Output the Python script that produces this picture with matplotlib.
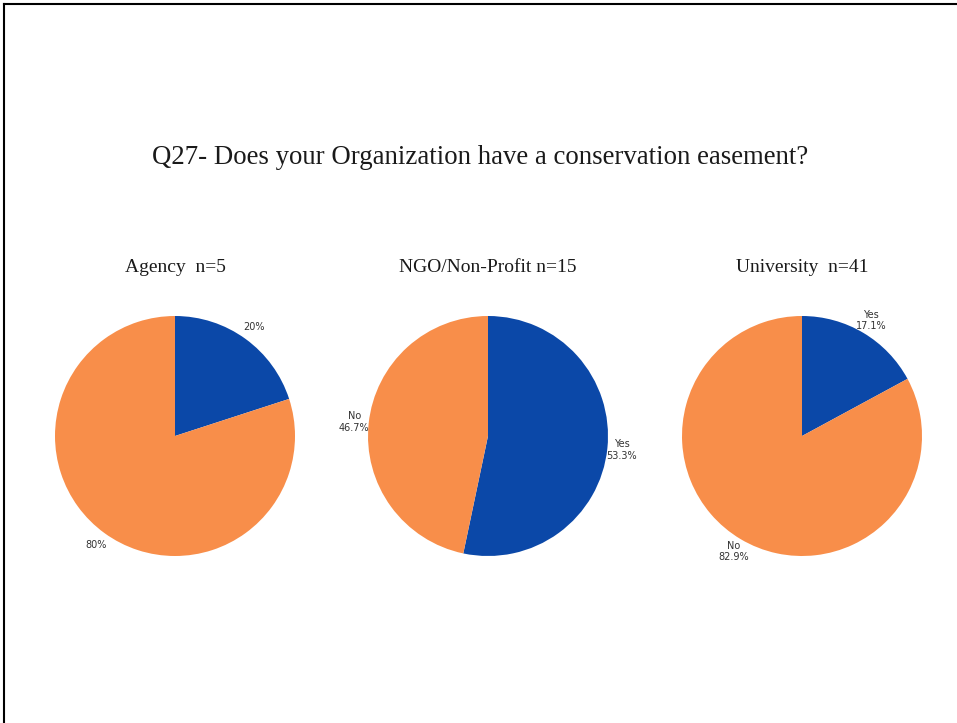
import matplotlib.pyplot as plt
from matplotlib.lines import Line2D

title = 'Q27- Does your Organization have a conservation easement?'
groups = ['Agency  n=5', 'NGO/Non-Profit n=15', 'University  n=41']
answers = ['Yes', 'No']
shares = [
    [20.0, 80.0],
    [53.3, 46.7],
    [17.1, 82.9],
]
show_names = [False, True, True]

colors = ['#0B48A8', '#F88E4A']
W, H = 957, 723
centers_x = [175, 488, 802]
center_y = 436
half = 150  # axes half-size in px, radius 1 -> 120 px

fig = plt.figure(figsize=(W / 100, H / 100), dpi=100)
fig.patch.set_facecolor('white')

fig.text(480 / W, 1 - 157 / H, title, ha='center', va='center',
         family='Liberation Serif', fontsize=19.3, color='#1a1a1a')

for cx, name, vals, named in zip(centers_x, groups, shares, show_names):
    ax = fig.add_axes([(cx - half) / W, (H - center_y - half) / H,
                       2 * half / W, 2 * half / H])
    if named:
        labels = [f'{a}\n{v:.1f}%' for a, v in zip(answers, vals)]
    else:
        labels = [f'{v:.0f}%' for v in vals]
    wedges, texts = ax.pie(vals, colors=colors, startangle=90, counterclock=False,
                           labels=labels, labeldistance=1.12,
                           textprops=dict(fontsize=7, color='#333333',
                                          family='DejaVu Sans'))
    for t in texts:
        t.set_ha('center')
        t.set_va('center')
        t.set_multialignment('center')
    ax.set_xlim(-1.25, 1.25)
    ax.set_ylim(-1.25, 1.25)
    ax.set_aspect('equal')
    ax.axis('off')
    fig.text(cx / W, 1 - 268 / H, name, ha='center', va='center',
             family='Liberation Serif', fontsize=14, color='#1a1a1a')

# slide frame: top and left edges only
fig.add_artist(Line2D([4 / W, 1], [1 - 4 / H, 1 - 4 / H], color='black', lw=1.5,
                      transform=fig.transFigure))
fig.add_artist(Line2D([4 / W, 4 / W], [0, 1 - 4 / H], color='black', lw=1.5,
                      transform=fig.transFigure))

fig.savefig('out.png', dpi=100)
